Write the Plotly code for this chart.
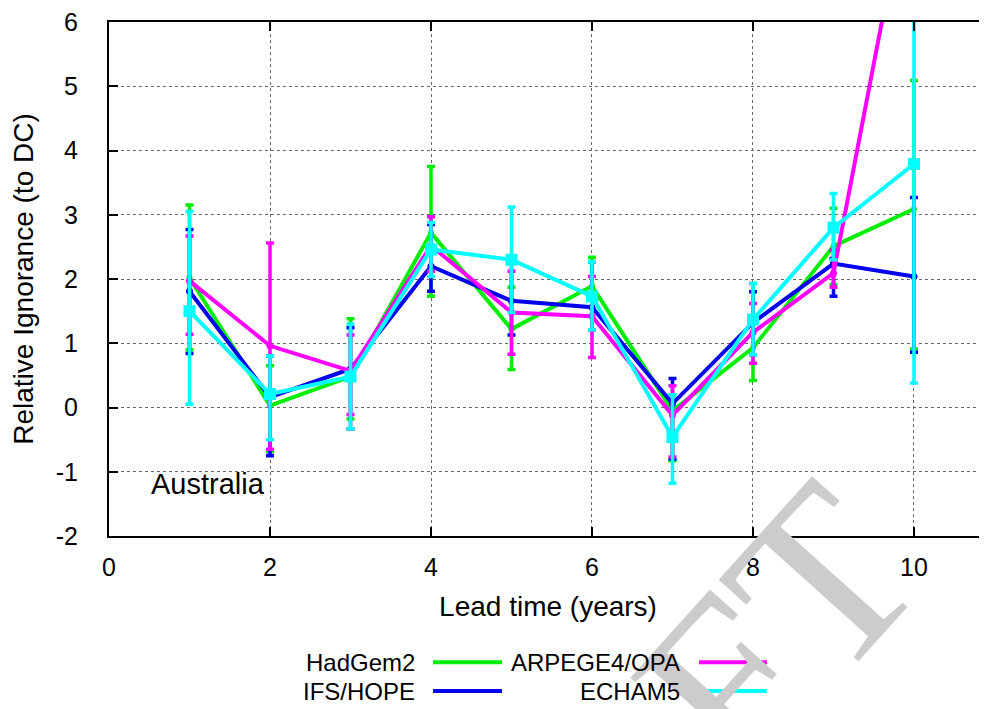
import plotly.graph_objects as go

lead = [1, 2, 3, 4, 5, 6, 7, 8, 9, 10]

names = ["HadGem2", "IFS/HOPE", "ARPEGE4/OPA", "ECHAM5"]

had_val = [2.02, 0.03, 0.48, 2.72, 1.22, 1.89, -0.05, 0.93, 2.51, 3.09]
had_hi = [3.15, 0.65, 1.38, 3.75, 1.87, 2.34, 0.20, 1.93, 3.10, 5.09]
had_lo = [0.90, -0.69, -0.18, 1.73, 0.59, 1.21, -0.83, 0.42, 1.91, 0.91]

ifs_val = [1.81, 0.16, 0.60, 2.20, 1.66, 1.56, 0.06, 1.32, 2.24, 2.04]
ifs_hi = [2.77, 0.80, 1.24, 2.85, 2.25, 2.27, 0.45, 1.80, 2.32, 3.27]
ifs_lo = [0.84, -0.75, -0.33, 1.81, 1.13, 1.21, -0.80, 0.82, 1.73, 0.86]

arp_val = [1.97, 0.96, 0.57, 2.52, 1.48, 1.42, -0.12, 1.17, 2.09, 8.6]
arp_hi = [2.67, 2.56, 1.13, 2.97, 2.12, 2.04, 0.34, 1.62, 2.45, 10.5]
arp_lo = [1.14, -0.65, -0.11, 2.12, 0.83, 0.78, -0.77, 0.69, 1.87, 6.5]

ech_val = [1.50, 0.21, 0.48, 2.46, 2.30, 1.73, -0.46, 1.37, 2.80, 3.79]
ech_hi = [3.05, 0.80, 1.30, 2.88, 3.12, 2.27, 0.20, 1.93, 3.33, 6.30]
ech_lo = [0.05, -0.50, -0.33, 2.04, 1.48, 1.21, -1.18, 0.82, 2.30, 0.38]

x_ticks = [0, 2, 4, 6, 8, 10]
y_ticks = [-2, -1, 0, 1, 2, 3, 4, 5, 6]

series = [
    ("HadGem2", had_val, had_hi, had_lo, "#00ee00", "circle", 6),
    ("IFS/HOPE", ifs_val, ifs_hi, ifs_lo, "#0000ee", "circle", 7),
    ("ARPEGE4/OPA", arp_val, arp_hi, arp_lo, "#ff00ff", "circle", 7),
    ("ECHAM5", ech_val, ech_hi, ech_lo, "#00ffff", "square", 12),
]

FONT = "Liberation Sans, Arial, sans-serif"

fig = go.Figure()
for name, val, hi, lo, col, sym, msz in series:
    fig.add_trace(go.Scatter(
        x=lead, y=val, name=name, mode="lines+markers",
        line=dict(color=col, width=4),
        marker=dict(color=col, symbol=sym, size=msz),
        error_y=dict(type="data", symmetric=False,
                     array=[h - v for h, v in zip(hi, val)],
                     arrayminus=[v - l for v, l in zip(val, lo)],
                     color=col, thickness=3.5, width=4),
        showlegend=False,
    ))

# watermark
annotations = [dict(
    text="DRAFT", xref="paper", yref="paper", x=0.566, y=-0.55,
    xanchor="center", yanchor="middle", showarrow=False, textangle=-48,
    font=dict(family="Liberation Serif, Times New Roman, serif", size=242, color="#cccccc"),
)]

annotations.append(dict(
    text="Australia", x=0.5, y=-1.19, xref="x", yref="y", xanchor="left",
    yanchor="middle", showarrow=False, font=dict(family=FONT, size=29, color="black"),
))

# manual gnuplot-style legend (text left of line sample)
leg_rows = [-0.2456, -0.3017]
leg_text_x = [0.3508, 0.6526]
leg_line_x = [(0.369, 0.4476), (0.672, 0.7494)]
leg_pos = {"HadGem2": (0, 0), "IFS/HOPE": (0, 1), "ARPEGE4/OPA": (1, 0), "ECHAM5": (1, 1)}
shapes = []
for name, val, hi, lo, col, sym, msz in series:
    c, r = leg_pos[name]
    annotations.append(dict(
        text=name, xref="paper", yref="paper", x=leg_text_x[c], y=leg_rows[r],
        xanchor="right", yanchor="middle", showarrow=False,
        font=dict(family=FONT, size=24, color="black"),
    ))
    shapes.append(dict(
        type="line", xref="paper", yref="paper",
        x0=leg_line_x[c][0], x1=leg_line_x[c][1], y0=leg_rows[r], y1=leg_rows[r],
        line=dict(color=col, width=4),
    ))

fig.update_layout(
    width=979, height=701,
    margin=dict(l=101, r=0, t=11, b=173),
    paper_bgcolor="white", plot_bgcolor="white",
    font=dict(family=FONT, size=25, color="black"),
    annotations=annotations, shapes=shapes,
    showlegend=False,
)
fig.update_xaxes(
    range=[0, 10.907], tickvals=x_ticks, ticktext=[str(t) for t in x_ticks],
    showline=True, linecolor="black", linewidth=2, mirror="ticks",
    ticks="inside", ticklen=9, tickwidth=1.5, tickcolor="black",
    showgrid=True, gridcolor="#666666", gridwidth=1, griddash="dot",
    zeroline=False, ticklabelstandoff=8, ticklabeloverflow="allow",
    title=dict(text="Lead time (years)", font=dict(family=FONT, size=28), standoff=16),
)
fig.update_yaxes(
    range=[-2, 6], tickvals=y_ticks, ticktext=[str(t) for t in y_ticks],
    showline=True, linecolor="black", linewidth=2, mirror=False,
    ticks="inside", ticklen=9, tickwidth=1.5, tickcolor="black",
    showgrid=True, gridcolor="#666666", gridwidth=1, griddash="dot",
    zeroline=False, ticklabelstandoff=24, ticklabeloverflow="allow",
    title=dict(text="Relative Ignorance (to DC)", font=dict(family=FONT, size=28), standoff=18),
)

fig.write_html("out.html")
